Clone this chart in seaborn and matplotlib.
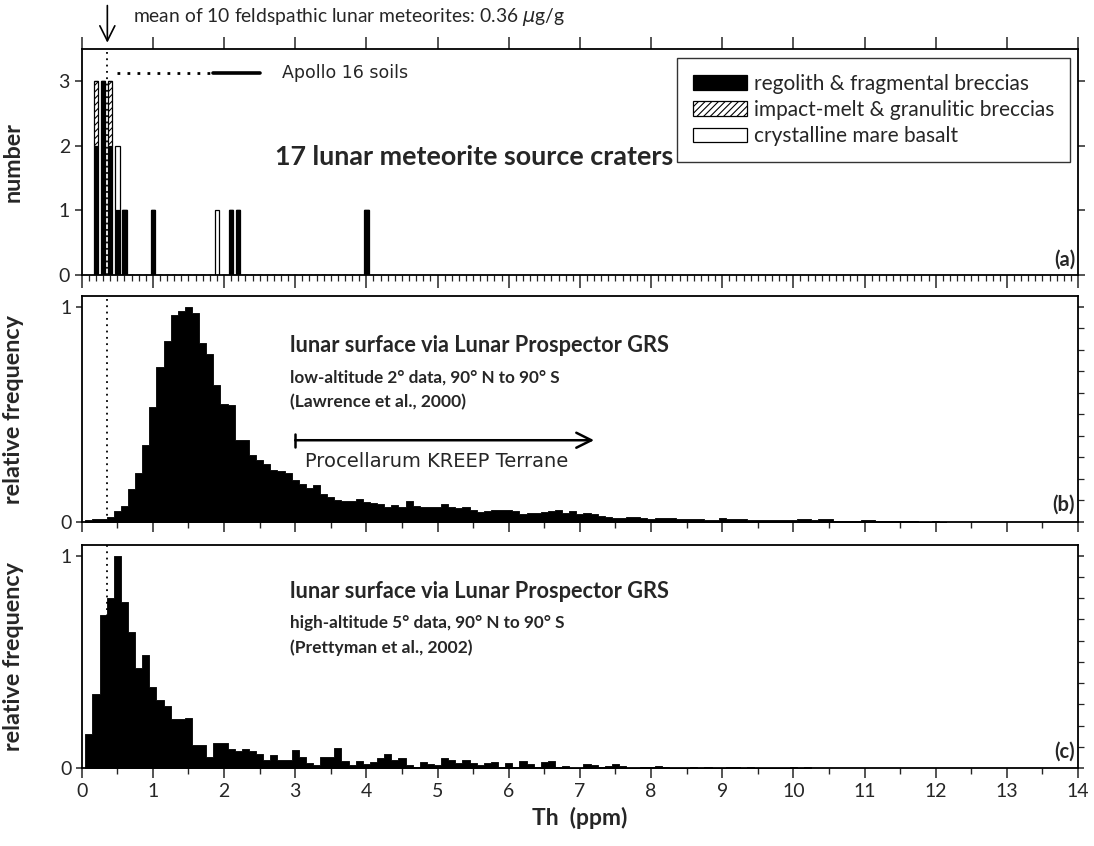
import numpy as np
import pandas as pd
import matplotlib
matplotlib.use("Agg")
import matplotlib.pyplot as plt
import seaborn as sns
from matplotlib.patches import Patch
from matplotlib.ticker import MultipleLocator, FixedLocator

sns.set_theme(style="ticks")
plt.rcParams["font.family"] = ["Lato", "DejaVu Sans"]
plt.rcParams["hatch.linewidth"] = 0.8
plt.rcParams["axes.linewidth"] = 1.3

# ---------------- data ----------------
# (a) Th (ppm) of lunar meteorite source craters, by lithology
regolith_th = [0.2, 0.2, 0.3, 0.3, 0.3, 0.4, 0.4, 0.5, 0.6, 1.0, 2.1, 2.2, 4.0]
impact_th = [0.2, 0.4]
mare_th = [0.5, 1.9]
lith_labels = ["regolith & fragmental breccias",
               "impact-melt & granulitic breccias",
               "crystalline mare basalt"]

# (b) Lunar Prospector GRS low-altitude 2-degree data, bins of 0.1 ppm centred at 0.1, 0.2, ...
low_alt_freq = [
    0.008, 0.012, 0.015, 0.025, 0.052, 0.074, 0.152, 0.23, 0.36, 0.535,
    0.72, 0.843, 0.96, 0.983, 1.0, 0.97, 0.83, 0.783, 0.637, 0.55,
    0.545, 0.38, 0.38, 0.31, 0.29, 0.27, 0.24, 0.235, 0.23, 0.197,
    0.178, 0.16, 0.17, 0.132, 0.117, 0.1, 0.097, 0.098, 0.105, 0.094,
    0.089, 0.083, 0.068, 0.078, 0.068, 0.098, 0.074, 0.071, 0.071, 0.068,
    0.083, 0.068, 0.066, 0.068, 0.058, 0.048, 0.05, 0.058, 0.055, 0.055,
    0.052, 0.037, 0.04, 0.043, 0.048, 0.052, 0.055, 0.043, 0.051, 0.037,
    0.04, 0.037, 0.028, 0.025, 0.018, 0.018, 0.022, 0.025, 0.017, 0.012,
    0.017, 0.018, 0.017, 0.012, 0.012, 0.012, 0.015, 0.011, 0.011, 0.017,
    0.012, 0.012, 0.012, 0.011, 0.011, 0.009, 0.009, 0.009, 0.008, 0.008,
    0.015, 0.012, 0.009, 0.012, 0.012, 0.006, 0.006, 0.006, 0.006, 0.009,
    0.009, 0.003, 0.003, 0.003, 0.003, 0.003, 0.003, 0.002, 0.002, 0.003,
    0.002]

# (c) Lunar Prospector GRS high-altitude 5-degree data, same binning
high_alt_freq = [
    0.16, 0.35, 0.72, 0.80, 1.0, 0.78, 0.64, 0.47, 0.53, 0.38,
    0.32, 0.29, 0.23, 0.23, 0.235, 0.11, 0.11, 0.05, 0.12, 0.12,
    0.09, 0.08, 0.09, 0.08, 0.065, 0.04, 0.06, 0.04, 0.04, 0.087,
    0.05, 0.025, 0.014, 0.053, 0.053, 0.096, 0.034, 0.012, 0.034, 0.019,
    0.03, 0.045, 0.064, 0.04, 0.045, 0.012, 0.003, 0.03, 0.019, 0.012,
    0.045, 0.037, 0.025, 0.04, 0.025, 0.012, 0.025, 0.03, 0.006, 0.025,
    0.006, 0.034, 0.019, 0.006, 0.03, 0.034, 0.003, 0.008, 0.002, 0.0,
    0.019, 0.014, 0.003, 0.008, 0.017, 0.011, 0.0, 0.002, 0.006, 0.006,
    0.011, 0.005, 0.002, 0.002, 0.0, 0.005, 0.002, 0.005, 0.0, 0.0,
    0.003, 0.005, 0.0, 0.005, 0.002, 0.002, 0.0, 0.0, 0.0, 0.005,
    0.0, 0.005]

bin_width = 0.1
feldspathic_mean = 0.36
apollo16_dotted = [0.49, 1.85]
apollo16_solid = [1.85, 2.5]
apollo16_level = 3.13
kreep_range = [3.0, 7.2]
kreep_level = 0.38
x_ticks = list(range(0, 15))

HAND = ["DejaVu Sans"]  # stand-in for the hand-lettered annotation font

# ---------------- figure ----------------
fig = plt.figure(figsize=(10.94, 8.46), dpi=100)
axa = fig.add_axes([0.0747, 0.675, 0.9107, 0.267])
axb = fig.add_axes([0.0747, 0.383, 0.9107, 0.267])
axc = fig.add_axes([0.0747, 0.0922, 0.9107, 0.2636])

# ---- (a) stacked counts ----
df_a = pd.DataFrame({
    "Th": regolith_th + impact_th + mare_th,
    "type": [lith_labels[0]] * len(regolith_th)
            + [lith_labels[1]] * len(impact_th)
            + [lith_labels[2]] * len(mare_th),
})
impact_color = (1.0, 1.0, 0.999)
pal = {lith_labels[0]: "black", lith_labels[1]: impact_color, lith_labels[2]: "white"}
edges_a = [round(0.15 + bin_width * k, 2) for k in range(40)]
axa.axvline(feldspathic_mean, color="black", ls=(0, (1, 2.5)), lw=1.3, zorder=0)
sns.histplot(data=df_a, x="Th", hue="type",
             hue_order=[lith_labels[2], lith_labels[1], lith_labels[0]],
             multiple="stack", bins=edges_a, shrink=0.62, palette=pal,
             edgecolor="black", linewidth=0.9, alpha=1, legend=False, ax=axa)
for p in axa.patches:
    fc = p.get_facecolor()
    if abs(fc[2] - 0.999) < 1e-4 and fc[0] > 0.99:
        p.set_hatch("/////")

axa.plot(apollo16_dotted, [apollo16_level] * 2, color="black", ls=(0, (1, 2.6)), lw=2.0)
axa.plot(apollo16_solid, [apollo16_level] * 2, color="black", ls="-", lw=2.6)
axa.text(2.82, apollo16_level, "Apollo 16 soils", fontsize=12.5, family=HAND,
         va="center", ha="left")
axa.text(2.72, 1.82, "17 lunar meteorite source craters", fontsize=19.4,
         fontweight="bold", va="center", ha="left")
axa.annotate("", xy=(feldspathic_mean, 1.016), xycoords=("data", "axes fraction"),
             xytext=(feldspathic_mean, 1.205), textcoords=("data", "axes fraction"),
             arrowprops=dict(arrowstyle="->,head_length=0.9,head_width=0.45",
                             color="black", lw=1.2), annotation_clip=False)
axa.text(0.72, 1.14, "mean of 10 feldspathic lunar meteorites: 0.36 $\\mu$g/g",
         transform=axa.get_xaxis_transform(), fontsize=13.9, va="center", ha="left")

handles = [Patch(facecolor="black", edgecolor="black", lw=0.9),
           Patch(facecolor="white", edgecolor="black", lw=0.9, hatch="/////"),
           Patch(facecolor="white", edgecolor="black", lw=0.9)]
leg = axa.legend(handles, lith_labels, loc="upper right", bbox_to_anchor=(0.992, 0.96),
                 borderaxespad=0, fontsize=15, frameon=True, fancybox=False,
                 edgecolor="black", handlelength=2.6, handleheight=0.7,
                 handletextpad=0.35, labelspacing=0.3, borderpad=0.75)
leg.get_frame().set_linewidth(1.0)

axa.set_xlim(0, 14)
axa.set_ylim(0, 3.5)
axa.set_yticks([0, 1, 2, 3])
axa.xaxis.set_major_locator(FixedLocator(x_ticks))
axa.xaxis.set_minor_locator(MultipleLocator(0.1))
axa.tick_params(axis="x", which="major", direction="out", length=9, width=1.1,
                top=True, bottom=True, labelbottom=False)
axa.tick_params(axis="x", which="minor", direction="out", length=4, width=0.9,
                top=False, bottom=True)
axa.tick_params(axis="y", which="major", direction="out", length=5, width=1.1,
                left=True, right=True, labelsize=14)
axa.set_xlabel("")
axa.set_ylabel("number", fontsize=16.8, fontweight="bold")
axa.yaxis.set_label_coords(-0.058, 0.5)
axa.text(0.997, 0.066, "(a)", transform=axa.transAxes, fontsize=14.5,
         fontweight="bold", ha="right", va="center")

# ---- (b) and (c) histograms ----
def rel_hist(ax, freq, title, sub1, sub2, tag, ylev):
    n = len(freq)
    centers = [round(bin_width * (k + 1), 2) for k in range(n)]
    edges = [round(0.05 + bin_width * k, 2) for k in range(n + 1)]
    df = pd.DataFrame({"Th": centers, "freq": [float(v) for v in freq]})
    ax.axvline(feldspathic_mean, color="black", ls=(0, (1, 2.5)), lw=1.3, zorder=0)
    sns.histplot(data=df, x="Th", weights="freq", bins=edges, element="step", fill=True,
                 color="black", alpha=1, linewidth=0.6, edgecolor="black", ax=ax)
    ax.set_xlim(0, 14)
    ax.set_ylim(0, 1.05)
    ax.set_yticks([0, 1])
    ax.yaxis.set_minor_locator(MultipleLocator(0.1))
    ax.xaxis.set_major_locator(FixedLocator(x_ticks))
    ax.xaxis.set_minor_locator(MultipleLocator(0.5))
    ax.tick_params(axis="x", which="major", direction="out", length=7, width=1.1,
                   top=False, bottom=True)
    ax.tick_params(axis="x", which="minor", direction="out", length=4, width=1.0,
                   top=False, bottom=True)
    ax.tick_params(axis="y", which="major", direction="out", length=4, width=1.1,
                   left=True, right=True, labelsize=14)
    ax.tick_params(axis="y", which="minor", direction="out", length=4, width=0.9,
                   left=False, right=True)
    ax.set_ylabel("relative frequency", fontsize=16.8, fontweight="bold")
    ax.yaxis.set_label_coords(-0.058, 0.5)
    ax.text(2.93, ylev[0], title, fontsize=15.7, fontweight="bold", va="center", ha="left")
    ax.text(2.93, ylev[1], sub1, fontsize=12.3, fontweight="bold", va="center", ha="left")
    ax.text(2.93, ylev[2], sub2, fontsize=12.6, fontweight="bold", va="center", ha="left")
    ax.text(0.997, 0.075, tag, transform=ax.transAxes, fontsize=14.5,
            fontweight="bold", ha="right", va="center")

rel_hist(axb, low_alt_freq, "lunar surface via Lunar Prospector GRS",
         "low-altitude 2° data, 90° N to 90° S", "(Lawrence et al., 2000)", "(b)",
         [0.82, 0.67, 0.555])
axb.tick_params(axis="x", labelbottom=False)
axb.set_xlabel("")
axb.annotate("", xy=(kreep_range[1], kreep_level), xytext=(kreep_range[0], kreep_level),
             arrowprops=dict(arrowstyle="->,head_length=0.9,head_width=0.45",
                             color="black", lw=1.8, shrinkA=0, shrinkB=0))
axb.plot([kreep_range[0]] * 2, [kreep_level - 0.03, kreep_level + 0.03],
         color="black", lw=1.8)
axb.text(3.14, 0.28, "Procellarum KREEP Terrane", fontsize=14, family=HAND,
         va="center", ha="left")

rel_hist(axc, high_alt_freq, "lunar surface via Lunar Prospector GRS",
         "high-altitude 5° data, 90° N to 90° S", "(Prettyman et al., 2002)", "(c)",
         [0.83, 0.684, 0.566])
axc.set_xticklabels([str(t) for t in x_ticks], fontsize=14)
axc.set_xlabel("Th  (ppm)", fontsize=16.5, fontweight="bold", labelpad=5)

for ax in (axa, axb, axc):
    for s in ax.spines.values():
        s.set_linewidth(1.3)
        s.set_color("black")

fig.savefig("out.png", dpi=100)
